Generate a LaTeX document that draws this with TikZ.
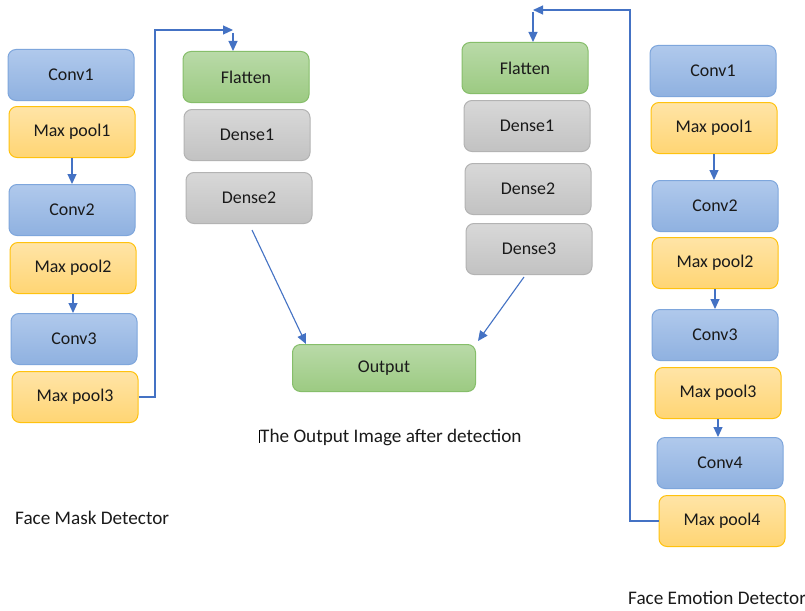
\documentclass[tikz,border=0pt]{standalone}
\usepackage{fontspec}
\setmainfont{Carlito}
\usetikzlibrary{arrows.meta}
\definecolor{arrblue}{HTML}{4472C4}
\definecolor{bluetop}{HTML}{B0C9EC}
\definecolor{bluebot}{HTML}{8FB1E0}
\definecolor{blueedge}{HTML}{7EA6DC}
\definecolor{yeltop}{HTML}{FFE4A6}
\definecolor{yelbot}{HTML}{FFD574}
\definecolor{yeledge}{HTML}{FFC20E}
\definecolor{grntop}{HTML}{B9DAA8}
\definecolor{grnbot}{HTML}{9CCA82}
\definecolor{grnedge}{HTML}{86BE6A}
\definecolor{grytop}{HTML}{D8D8D8}
\definecolor{grybot}{HTML}{C2C2C2}
\definecolor{gryedge}{HTML}{B3B3B3}
\definecolor{txt}{HTML}{1A1A1A}
\tikzset{
  box/.style={rounded corners=8pt, minimum width=126pt, minimum height=51pt,
    inner sep=0pt, line width=1pt, font=\fontsize{17.9}{20}\selectfont, text=txt},
  bluebox/.style={box, draw=blueedge, top color=bluetop, bottom color=bluebot},
  yelbox/.style={box, draw=yeledge, top color=yeltop, bottom color=yelbot},
  grnbox/.style={box, draw=grnedge, top color=grntop, bottom color=grnbot},
  grybox/.style={box, draw=gryedge, top color=grytop, bottom color=grybot},
  arr/.style={draw=arrblue, line width=1.1pt, -{Triangle[length=10pt,width=9pt]}},
  lbl/.style={font=\fontsize{19.2}{22}\selectfont, text=txt, inner sep=0pt}
}
\begin{document}
\begin{tikzpicture}[x=1pt,y=-1pt]
\useasboundingbox[fill=white] (0,0) rectangle (805,610);
% left column
\node[bluebox] (lc1) at (71,75) {Conv1};
\node[yelbox]  (lm1) at (72,132) {Max pool1};
\node[bluebox] (lc2) at (72,210) {Conv2};
\node[yelbox]  (lm2) at (73,268) {Max pool2};
\node[bluebox] (lc3) at (74,339) {Conv3};
\node[yelbox]  (lm3) at (75,397) {Max pool3};
% left dense
\node[grnbox] (fl1) at (246,77) {Flatten};
\node[grybox] (d11) at (247,135) {Dense1};
\node[grybox] (d12) at (249,198) {Dense2};
% output
\node[grnbox, minimum width=183pt, minimum height=47pt] (out) at (384,368) {Output};
% right dense
\node[grnbox] (fl2) at (525,68) {Flatten};
\node[grybox] (d21) at (527,126) {Dense1};
\node[grybox] (d22) at (528,189) {Dense2};
\node[grybox] (d23) at (529,249) {Dense3};
% right column
\node[bluebox] (rc1) at (713,71) {Conv1};
\node[yelbox]  (rm1) at (714,128) {Max pool1};
\node[bluebox] (rc2) at (715,206) {Conv2};
\node[yelbox]  (rm2) at (715,263) {Max pool2};
\node[bluebox] (rc3) at (715,335) {Conv3};
\node[yelbox]  (rm3) at (718,393) {Max pool3};
\node[bluebox] (rc4) at (720,463) {Conv4};
\node[yelbox]  (rm4) at (722,521) {Max pool4};
% labels
\node[lbl, anchor=west] (cap) at (260,437) {The Output Image after detection};
\draw[black, line width=0.8pt] ([xshift=-1pt,yshift=-2pt]cap.north west) -- ([xshift=-1pt,yshift=3pt]cap.south west);
\node[lbl, anchor=west] (fmd) at (15,518) {Face Mask Detector};
\node[lbl, anchor=west] (fed) at (628,598) {Face Emotion Detector};
% coordinates
\coordinate (lbend) at (155,30);
\coordinate (ltop) at (233,30);
\coordinate (rbend) at (630,10);
\coordinate (rtop) at (533,10);
% connectors left column
\draw[arr] (lm1.south) -- (lm1.south |- lc2.north);
\draw[arr] (lm2.south) -- (lm2.south |- lc3.north);
\draw[arr] (lm3.east) -| (lbend) -- (ltop);
\draw[arr] ([yshift=-3pt]ltop) -- (ltop |- fl1.north);
% right column
\draw[arr] (rm1.south) -- (rm1.south |- rc2.north);
\draw[arr] (rm2.south) -- (rm2.south |- rc3.north);
\draw[arr] (rm3.south) -- (rm3.south |- rc4.north);
\draw[arr] (rm4.west) -| (rbend) -- (rtop);
\draw[arr] ([yshift=-2pt]rtop) -- (rtop |- fl2.north);
% to output
\draw[arr] ([shift={(3,6)}]d12.south) -- ([xshift=14pt]out.north west);
\draw[arr] ([shift={(-5,2)}]d23.south) -- ([shift={(2,-3)}]out.north east);
\end{tikzpicture}
\end{document}
